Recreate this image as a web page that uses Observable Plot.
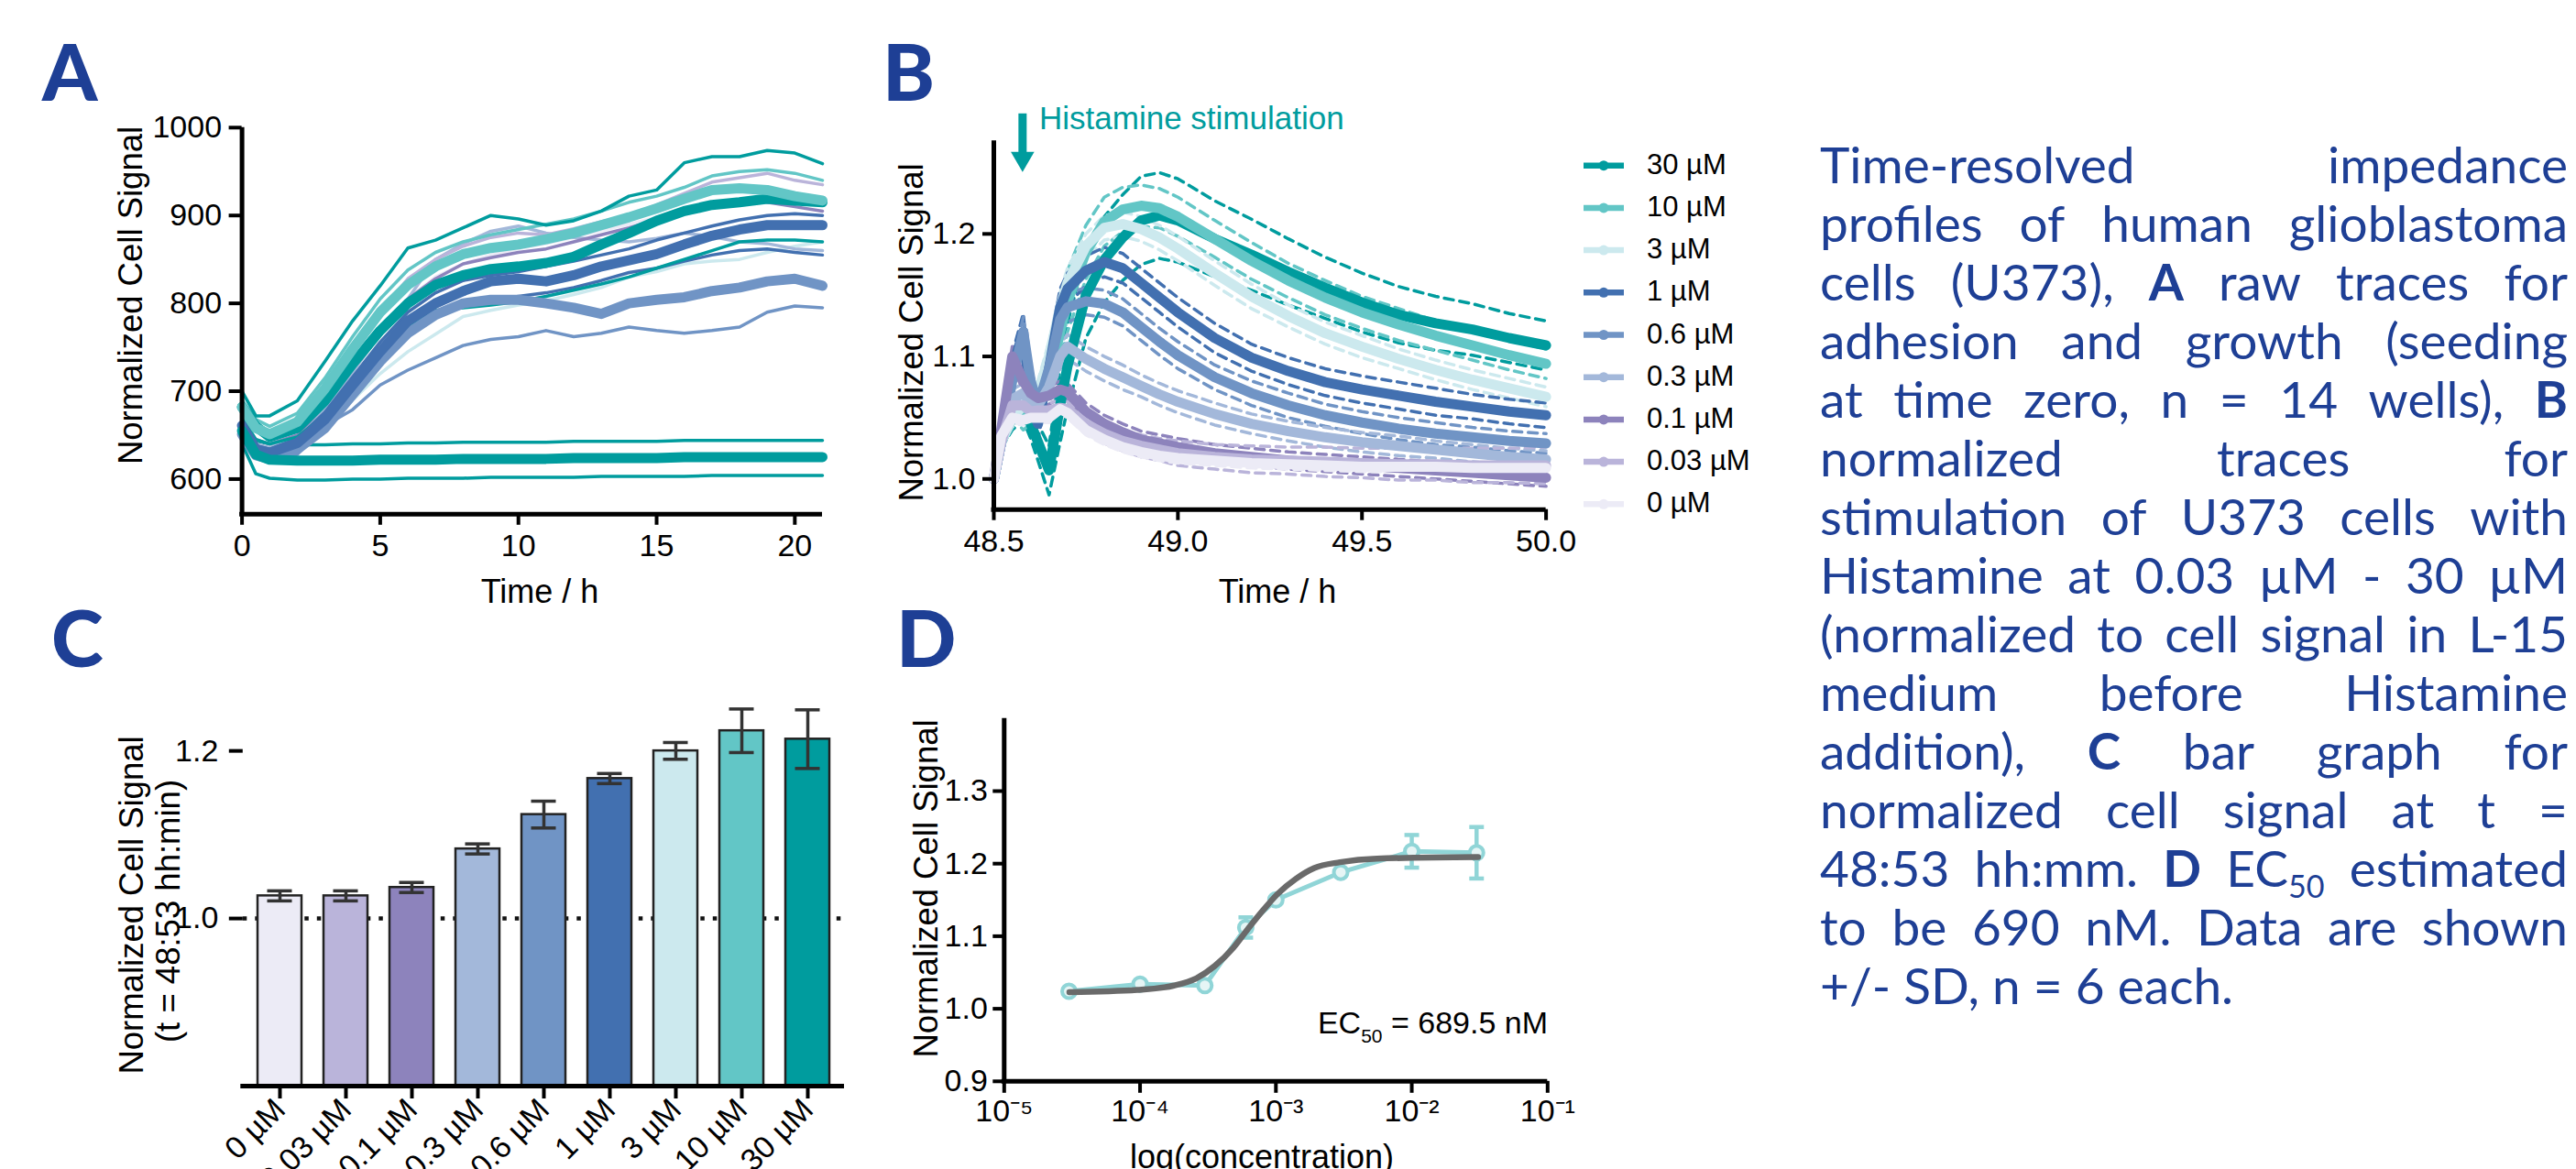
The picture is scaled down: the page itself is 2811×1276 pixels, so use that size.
<!DOCTYPE html>
<html>
<head>
<meta charset="utf-8">
<script src="https://cdn.jsdelivr.net/npm/d3@7"></script>
<script src="https://cdn.jsdelivr.net/npm/@observablehq/plot@0.6"></script>
<style>
html, body { margin: 0; padding: 0; background: #fff; }
#fig { position: relative; width: 2811px; height: 1276px; overflow: hidden; background: #fff; }
.panel { position: absolute; }
.panel svg { max-width: none !important; background: transparent !important; overflow: visible; }
#overlay { position: absolute; left: 0; top: 0; pointer-events: none; }
</style>
</head>
<body>
<div id="fig"></div>
<script>
// ---------------- colours per concentration ----------------
const cTeal = "#009c9e", cLtTeal = "#62c6c6", cCyan = "#cce9ee", cBlue = "#4270b0",
      cMidBlue = "#7094c5", cLtBlue = "#a3b8da", cPurple = "#8d83bc", cLav = "#bab4da", cPale = "#ecebf6";

// ---------------- Panel A: raw traces ----------------
const timeA = [0, 0.5, 1, 2, 3, 4, 5, 6, 7, 8, 9, 10, 11, 12, 13, 14, 15, 16, 17, 18, 19, 20, 21];
const aThickTeal   = [682, 660, 648, 658, 689, 731, 769, 800, 821, 832, 839, 842, 846, 853, 867, 880, 894, 905, 912, 915, 919, 917, 915];
const aThickLtTeal = [682, 658, 651, 665, 703, 748, 790, 821, 842, 856, 863, 867, 873, 880, 889, 898, 908, 919, 929, 931, 929, 922, 917];
const aThickBlue   = [661, 634, 630, 641, 668, 707, 745, 780, 800, 814, 825, 828, 825, 832, 842, 849, 856, 867, 877, 884, 889, 889, 889];
const aThickMidBlue= [651, 627, 623, 634, 658, 696, 734, 766, 787, 800, 804, 804, 800, 795, 788, 800, 804, 807, 814, 818, 825, 828, 820];
const aThickFlat   = [655, 628, 622, 621, 621, 621, 622, 622, 622, 623, 623, 623, 623, 624, 624, 624, 624, 625, 625, 625, 625, 625, 625];
const aTopTeal     = [700, 672, 672, 689, 734, 780, 820, 863, 872, 886, 900, 896, 889, 894, 905, 922, 929, 960, 967, 967, 974, 971, 959];
const aLowMidBlue  = [651, 626, 622, 628, 661, 679, 707, 724, 738, 752, 759, 762, 769, 762, 766, 773, 769, 766, 769, 773, 790, 797, 795];
const aFlatUpper   = [660, 643, 640, 639, 639, 640, 640, 641, 641, 642, 642, 642, 642, 643, 643, 643, 643, 644, 644, 644, 644, 644, 644];
const aFlatLower   = [640, 606, 601, 599, 599, 600, 600, 601, 601, 601, 602, 602, 602, 602, 603, 603, 603, 603, 604, 604, 604, 604, 604];
const aLav         = [670, 660, 655, 665, 700, 745, 790, 828, 850, 865, 875, 880, 878, 885, 893, 900, 912, 925, 938, 943, 948, 940, 935];
const aPurple      = [665, 645, 640, 650, 685, 728, 770, 805, 828, 845, 852, 858, 862, 870, 878, 886, 895, 905, 912, 918, 915, 910, 905];
const aCyan        = [660, 636, 632, 640, 660, 690, 720, 745, 765, 785, 792, 798, 803, 810, 818, 830, 836, 845, 848, 850, 858, 865, 870];
const aBlueLow     = [655, 630, 626, 636, 662, 700, 738, 770, 790, 800, 804, 808, 812, 818, 826, 835, 840, 848, 855, 860, 862, 858, 855];
const aBlueHigh    = [662, 638, 634, 646, 676, 716, 756, 790, 812, 826, 832, 836, 842, 848, 855, 862, 872, 880, 888, 895, 900, 902, 900];
const aLtTealHigh  = [690, 668, 660, 675, 715, 762, 805, 838, 858, 870, 878, 884, 890, 896, 905, 915, 922, 932, 945, 950, 952, 948, 940];
const aTealLow     = [670, 645, 640, 648, 672, 710, 748, 775, 792, 795, 798, 802, 808, 815, 822, 830, 840, 850, 860, 870, 872, 872, 870];
const aLtBlue      = [665, 640, 636, 648, 680, 722, 765, 805, 850, 868, 882, 888, 880, 875, 872, 870, 874, 880, 876, 870, 868, 862, 860];
const aPale        = [662, 640, 636, 648, 680, 722, 768, 805, 830, 845, 855, 862, 868, 875, 883, 890, 898, 905, 912, 918, 922, 920, 918];
const xTicksA = [0, 5, 10, 15, 20];
const yTicksA = [600, 700, 800, 900, 1000];

// ---------------- Panel B: normalized traces ----------------
const timeB = [48.5, 48.52, 48.55, 48.58, 48.6, 48.62, 48.65, 48.68, 48.7, 48.75, 48.8, 48.85, 48.9, 48.95, 49.0, 49.1, 49.2, 49.3, 49.4, 49.5, 49.6, 49.7, 49.8, 49.9, 50.0];
const concLegend = ["30 µM", "10 µM", "3 µM", "1 µM", "0.6 µM", "0.3 µM", "0.1 µM", "0.03 µM", "0 µM"];
const concColors = [cTeal, cLtTeal, cCyan, cBlue, cMidBlue, cLtBlue, cPurple, cLav, cPale];
const m30  = [1.0, 1.03, 1.05, 1.06, 1.045, 1.03, 1.007, 1.06, 1.092, 1.15, 1.179, 1.197, 1.211, 1.215, 1.211, 1.196, 1.183, 1.169, 1.156, 1.144, 1.134, 1.127, 1.122, 1.115, 1.109];
const m10  = [1.0, 1.03, 1.06, 1.05, 1.055, 1.06, 1.08, 1.12, 1.145, 1.185, 1.21, 1.22, 1.223, 1.221, 1.214, 1.196, 1.178, 1.162, 1.148, 1.136, 1.126, 1.117, 1.109, 1.101, 1.094];
const m3   = [1.0, 1.03, 1.05, 1.06, 1.065, 1.07, 1.1, 1.14, 1.16, 1.19, 1.205, 1.208, 1.204, 1.197, 1.188, 1.168, 1.149, 1.133, 1.119, 1.108, 1.098, 1.089, 1.081, 1.074, 1.067];
const m1   = [1.0, 1.03, 1.09, 1.12, 1.06, 1.045, 1.09, 1.14, 1.155, 1.17, 1.177, 1.172, 1.16, 1.148, 1.136, 1.115, 1.099, 1.088, 1.079, 1.073, 1.068, 1.063, 1.059, 1.055, 1.052];
const m06  = [1.0, 1.03, 1.08, 1.12, 1.08, 1.06, 1.09, 1.13, 1.14, 1.145, 1.143, 1.136, 1.124, 1.112, 1.101, 1.083, 1.07, 1.06, 1.052, 1.046, 1.041, 1.037, 1.034, 1.031, 1.029];
const m03  = [1.0, 1.03, 1.065, 1.07, 1.062, 1.06, 1.075, 1.1, 1.108, 1.098, 1.09, 1.083, 1.076, 1.069, 1.063, 1.053, 1.045, 1.039, 1.034, 1.03, 1.027, 1.024, 1.021, 1.018, 1.016];
const m01  = [1.0, 1.04, 1.1, 1.08, 1.07, 1.066, 1.068, 1.073, 1.071, 1.055, 1.045, 1.038, 1.032, 1.029, 1.026, 1.021, 1.018, 1.015, 1.013, 1.011, 1.009, 1.007, 1.005, 1.003, 1.001];
const m003 = [1.0, 1.03, 1.06, 1.06, 1.055, 1.056, 1.056, 1.058, 1.057, 1.045, 1.037, 1.031, 1.027, 1.024, 1.021, 1.018, 1.016, 1.015, 1.014, 1.013, 1.012, 1.012, 1.011, 1.011, 1.011];
const m0   = [1.0, 1.035, 1.05, 1.048, 1.05, 1.05, 1.05, 1.057, 1.054, 1.04, 1.032, 1.026, 1.022, 1.019, 1.017, 1.015, 1.013, 1.012, 1.011, 1.01, 1.01, 1.01, 1.009, 1.009, 1.009];
const sd30  = [0, 0.005, 0.01, 0.012, 0.012, 0.015, 0.02, 0.03, 0.035, 0.035, 0.035, 0.035, 0.036, 0.035, 0.034, 0.031, 0.029, 0.027, 0.025, 0.024, 0.023, 0.022, 0.021, 0.02, 0.02];
const sd10  = [0, 0.005, 0.01, 0.01, 0.01, 0.012, 0.02, 0.025, 0.025, 0.022, 0.02, 0.018, 0.017, 0.016, 0.016, 0.015, 0.015, 0.014, 0.014, 0.013, 0.013, 0.012, 0.012, 0.012, 0.012];
const sd3   = [0, 0.005, 0.008, 0.01, 0.01, 0.01, 0.012, 0.012, 0.012, 0.01, 0.01, 0.01, 0.01, 0.01, 0.01, 0.01, 0.01, 0.009, 0.009, 0.009, 0.008, 0.008, 0.008, 0.008, 0.008];
const sd1   = [0, 0.005, 0.012, 0.015, 0.012, 0.012, 0.015, 0.015, 0.013, 0.012, 0.012, 0.012, 0.012, 0.012, 0.012, 0.012, 0.011, 0.011, 0.011, 0.011, 0.011, 0.011, 0.01, 0.01, 0.01];
const sd06  = [0, 0.005, 0.01, 0.012, 0.01, 0.01, 0.012, 0.012, 0.012, 0.011, 0.011, 0.011, 0.011, 0.011, 0.011, 0.01, 0.01, 0.01, 0.009, 0.009, 0.009, 0.009, 0.008, 0.008, 0.008];
const sd03  = [0, 0.004, 0.008, 0.008, 0.008, 0.008, 0.008, 0.01, 0.01, 0.01, 0.01, 0.01, 0.009, 0.009, 0.009, 0.009, 0.008, 0.008, 0.008, 0.008, 0.008, 0.007, 0.007, 0.007, 0.007];
const sd01  = [0, 0.004, 0.008, 0.008, 0.008, 0.007, 0.007, 0.007, 0.007, 0.007, 0.007, 0.007, 0.007, 0.007, 0.007, 0.007, 0.007, 0.007, 0.007, 0.007, 0.007, 0.007, 0.007, 0.007, 0.007];
const sd003 = [0, 0.004, 0.006, 0.006, 0.006, 0.006, 0.006, 0.006, 0.006, 0.007, 0.008, 0.008, 0.009, 0.009, 0.01, 0.01, 0.011, 0.011, 0.012, 0.012, 0.013, 0.013, 0.014, 0.014, 0.015];
const sd0   = [0, 0.003, 0.004, 0.004, 0.004, 0.004, 0.004, 0.004, 0.004, 0.004, 0.004, 0.004, 0.004, 0.004, 0.004, 0.004, 0.004, 0.004, 0.004, 0.004, 0.004, 0.004, 0.004, 0.004, 0.004];
const stimulationTime = 48.578;
const arrowTopValue = 1.298, arrowHeadValue = 1.2615;
const xTicksB = [48.5, 49.0, 49.5, 50.0];
const yTicksB = [1.0, 1.1, 1.2];

// ---------------- Panel C: bar graph ----------------
const barLabels = ["0 µM", "0.03 µM", "0.1 µM", "0.3 µM", "0.6 µM", "1 µM", "3 µM", "10 µM", "30 µM"];
const barValues = [1.027, 1.027, 1.037, 1.083, 1.124, 1.167, 1.200, 1.224, 1.214];
const barSD     = [0.006, 0.006, 0.006, 0.006, 0.016, 0.006, 0.010, 0.026, 0.035];
const barColors = [cPale, cLav, cPurple, cLtBlue, cMidBlue, cBlue, cCyan, cLtTeal, cTeal];
const barBase = 0.8;
const referenceLevel = 1.0;
const yTicksC = [1.0, 1.2];

// ---------------- Panel D: dose response ----------------
const doseConc  = [3e-5, 1e-4, 3e-4, 6e-4, 1e-3, 3e-3, 1e-2, 3e-2];
const doseValue = [1.024, 1.034, 1.032, 1.112, 1.150, 1.188, 1.217, 1.215];
const doseSD    = [0.003, 0.003, 0.004, 0.014, 0.004, 0.004, 0.0225, 0.0355];
const fitLogConc = [-4.52, -4.02, -3.75, -3.585, -3.45, -3.314, -3.206, -3.098, -2.989, -2.854, -2.718, -2.528, -2.257, -1.512];
const fitValue   = [1.023, 1.026, 1.032, 1.042, 1.059, 1.084, 1.110, 1.135, 1.158, 1.179, 1.194, 1.202, 1.207, 1.209];
const xTicksD = [1e-5, 1e-4, 1e-3, 1e-2, 1e-1];
const yTicksD = [0.9, 1.0, 1.1, 1.2, 1.3];

// ---------------- text ----------------
const captionLines = [
  "Time-resolved impedance",
  "profiles of human glioblastoma",
  "cells (U373), **A** raw traces for",
  "adhesion and growth (seeding",
  "at time zero, n = 14 wells), **B**",
  "normalized traces for",
  "stimulation of U373 cells with",
  "Histamine at 0.03 µM - 30 µM",
  "(normalized to cell signal in L-15",
  "medium before Histamine",
  "addition), **C** bar graph for",
  "normalized cell signal at t =",
  "48:53 hh:mm. **D** EC_50 estimated",
  "to be 690 nM. Data are shown",
  "+/- SD, n = 6 each."
];

// =====================================================================
const FONT = "'Liberation Sans', Arial, Helvetica, sans-serif";
const baseStyle = {fontFamily: FONT, fontSize: "34px", color: "#000", background: "transparent", overflow: "visible"};
const fig = document.getElementById("fig");
function place(node, left, top) {
  const d = document.createElement("div");
  d.className = "panel";
  d.style.left = left + "px";
  d.style.top = top + "px";
  d.appendChild(node);
  fig.appendChild(d);
}
function rowsOf(id, xs, ys, col) { return xs.map((x, i) => ({id, x, y: ys[i], col})); }

// ---- Panel A ----
const thinA = [
  ["flatU", aFlatUpper, cTeal], ["flatL", aFlatLower, cTeal],
  ["pale", aPale, cPale], ["cyan", aCyan, cCyan], ["ltblue", aLtBlue, cLtBlue],
  ["lav", aLav, cLav], ["purple", aPurple, cPurple], ["bluelow", aBlueLow, cBlue],
  ["bluehigh", aBlueHigh, cBlue], ["tealLow", aTealLow, cTeal], ["ltTealHigh", aLtTealHigh, cLtTeal],
  ["lowMid", aLowMidBlue, cMidBlue], ["top", aTopTeal, cTeal]
].flatMap(([id, v, c]) => rowsOf(id, timeA, v, c));
const thickA = [
  ["tMid", aThickMidBlue, cMidBlue], ["tBlue", aThickBlue, cBlue],
  ["tTeal", aThickTeal, cTeal], ["tLtTeal", aThickLtTeal, cLtTeal], ["tFlat", aThickFlat, cTeal]
].flatMap(([id, v, c]) => rowsOf(id, timeA, v, c));

const plotA = Plot.plot({
  width: 960, height: 680,
  marginLeft: 263.6, marginRight: 63, marginTop: 138.8, marginBottom: 119.2,
  x: {domain: [0, 21]}, y: {domain: [560, 1000]},
  color: {type: "identity"},
  style: baseStyle,
  marks: [
    Plot.line(thinA, {x: "x", y: "y", z: "id", stroke: "col", strokeWidth: 3.5, strokeLinejoin: "round"}),
    Plot.line(thickA, {x: "x", y: "y", z: "id", stroke: "col", strokeWidth: 11, strokeLinecap: "round", strokeLinejoin: "round"}),
    Plot.ruleX([0], {strokeWidth: 5}),
    Plot.ruleY([560], {strokeWidth: 5, insetLeft: -2.5}),
    Plot.axisX({ticks: xTicksA, tickFormat: d => String(d), tickSize: 12, tickPadding: 10, strokeWidth: 4, fontSize: 34, label: null}),
    Plot.axisY({ticks: yTicksA, tickFormat: d => String(d), tickSize: 14, tickPadding: 8, strokeWidth: 4, fontSize: 34, label: null})
  ]
});
place(plotA, 0, 0);

// ---- Panel B ----
const meansB = [m30, m10, m3, m1, m06, m03, m01, m003, m0];
const sdsB = [sd30, sd10, sd3, sd1, sd06, sd03, sd01, sd003, sd0];
const meanRows = meansB.flatMap((m, k) => rowsOf(concLegend[k], timeB, m, concColors[k]));
const dashRows = meansB.flatMap((m, k) => [
  ...rowsOf(concLegend[k] + "u", timeB, m.map((v, i) => v + sdsB[k][i]), concColors[k]),
  ...rowsOf(concLegend[k] + "l", timeB, m.map((v, i) => v - sdsB[k][i]), concColors[k])
]);
const plotB = Plot.plot({
  width: 870, height: 600,
  marginLeft: 144, marginRight: 123.4, marginTop: 73.2, marginBottom: 124.3,
  x: {domain: [48.5, 50.0]}, y: {domain: [0.975, 1.276]},
  color: {type: "identity"},
  style: baseStyle,
  marks: [
    Plot.line(dashRows, {x: "x", y: "y", z: "id", stroke: "col", strokeWidth: 3.5, strokeDasharray: "10,7"}),
    Plot.line(meanRows, {x: "x", y: "y", z: "id", stroke: "col", strokeWidth: 11, strokeLinecap: "round", strokeLinejoin: "round"}),
    Plot.ruleX([stimulationTime], {x: d => d, y1: () => arrowTopValue, y2: () => arrowHeadValue + 0.002, stroke: cTeal, strokeWidth: 9}),
    Plot.dot([stimulationTime], {x: d => d, y: () => arrowHeadValue, symbol: "triangle", rotate: 180, r: 9.5, fill: cTeal, stroke: "none"}),
    Plot.ruleX([48.5], {strokeWidth: 5}),
    Plot.ruleY([0.975], {strokeWidth: 5, insetLeft: -2.5}),
    Plot.axisX({ticks: xTicksB, tickFormat: d3.format(".1f"), tickSize: 12, tickPadding: 10, strokeWidth: 4, fontSize: 34, label: null}),
    Plot.axisY({ticks: yTicksB, tickFormat: d3.format(".1f"), tickSize: 12, tickPadding: 8, strokeWidth: 4, fontSize: 34, label: null})
  ]
});
place(plotB, 940, 80);

// ---- Panel C ----
const barRows = barLabels.map((label, i) => ({label, value: barValues[i], sd: barSD[i], col: barColors[i]}));
const plotC = Plot.plot({
  width: 960, height: 636,
  marginLeft: 264.8, marginRight: 39, marginTop: 108.7, marginBottom: 91,
  x: {domain: barLabels, paddingInner: 0.335, paddingOuter: 0.1675},
  y: {domain: [0.8, 1.277]},
  color: {type: "identity"},
  style: baseStyle,
  marks: [
    Plot.ruleY([referenceLevel], {stroke: "#111", strokeWidth: 4.5, strokeDasharray: "4.5,9"}),
    Plot.barY(barRows, {x: "label", y1: () => barBase, y2: "value", fill: "col", stroke: "#222", strokeWidth: 2.5}),
    Plot.ruleX(barRows, {x: "label", y1: d => d.value - d.sd, y2: d => d.value + d.sd, stroke: "#333", strokeWidth: 3.5}),
    Plot.tickY(barRows, {x: "label", y: d => d.value + d.sd, stroke: "#333", strokeWidth: 3.5, inset: 10.5}),
    Plot.tickY(barRows, {x: "label", y: d => d.value - d.sd, stroke: "#333", strokeWidth: 3.5, inset: 10.5}),
    Plot.ruleX([0], {x: () => 0, frameAnchor: "left", strokeWidth: 5}),
    Plot.ruleY([barBase], {strokeWidth: 5, insetLeft: -2.5}),
    Plot.axisX({tickSize: 14, tickPadding: 6, tickRotate: -45, strokeWidth: 4, fontSize: 34, label: null}),
    Plot.axisY({ticks: yTicksC, tickFormat: d3.format(".1f"), tickSize: 15, tickPadding: 12, strokeWidth: 4, fontSize: 34, label: null})
  ]
});
place(plotC, 0, 640);

// ---- Panel D ----
const doseRows = doseConc.map((c, i) => ({c, v: doseValue[i], sd: doseSD[i]}));
const fitRows = fitLogConc.map((l, i) => ({c: Math.pow(10, l), v: fitValue[i]}));
const capSymbol = {draw(ctx, size) { const w = Math.sqrt(size); ctx.moveTo(-w / 2, 0); ctx.lineTo(w / 2, 0); }};
const supDigits = {"-": "⁻", "0": "⁰", "1": "¹", "2": "²", "3": "³", "4": "⁴", "5": "⁵", "6": "⁶", "7": "⁷", "8": "⁸", "9": "⁹"};
const powerLabel = d => "10" + String(Math.round(Math.log10(d))).split("").map(ch => supDigits[ch]).join("");
const cDose = "#90d5d7";
const plotD = Plot.plot({
  width: 860, height: 636,
  marginLeft: 145.3, marginRight: 121.7, marginTop: 143.8, marginBottom: 96.2,
  x: {type: "log", domain: [1e-5, 1e-1]}, y: {domain: [0.9, 1.4]},
  style: baseStyle,
  marks: [
    Plot.ruleX(doseRows, {x: "c", y1: d => d.v - d.sd, y2: d => d.v + d.sd, stroke: cDose, strokeWidth: 4.5}),
    Plot.dot(doseRows, {x: "c", y: d => d.v + d.sd, symbol: capSymbol, r: 9, stroke: cDose, strokeWidth: 4.5}),
    Plot.dot(doseRows, {x: "c", y: d => d.v - d.sd, symbol: capSymbol, r: 9, stroke: cDose, strokeWidth: 4.5}),
    Plot.line(doseRows, {x: "c", y: "v", stroke: cDose, strokeWidth: 5}),
    Plot.dot(doseRows, {x: "c", y: "v", r: 7.5, stroke: cDose, strokeWidth: 4, fill: "#e6f5f5"}),
    Plot.line(fitRows, {x: "c", y: "v", stroke: "#6a6a6a", strokeWidth: 6.5, curve: "monotone-x", strokeLinecap: "round"}),
    Plot.ruleX([1e-5], {strokeWidth: 5}),
    Plot.ruleY([0.9], {strokeWidth: 5, insetLeft: -2.5}),
    Plot.axisX({ticks: xTicksD, tickFormat: powerLabel, tickSize: 13, tickPadding: 7, strokeWidth: 4, fontSize: 34, label: null}),
    Plot.axisY({ticks: yTicksD, tickFormat: d3.format(".1f"), tickSize: 12, tickPadding: 6, strokeWidth: 4, fontSize: 34, label: null})
  ]
});
place(plotD, 950, 640);

// ---- Overlay: labels, legend, caption ----
const ov = d3.select("#fig").append("svg").attr("id", "overlay")
  .attr("width", 2811).attr("height", 1276).attr("viewBox", "0 0 2811 1276");
const navy = "#1e3f95";

// panel letters
[["A", 46, 110], ["B", 963, 110], ["C", 56, 728], ["D", 978, 728]].forEach(([t, x, y]) =>
  ov.append("text").attr("x", x).attr("y", y).attr("fill", navy)
    .style("font-family", "Lato, 'Open Sans', sans-serif").style("font-weight", 900).style("font-size", "86px").text(t));

// axis titles
function vtitle(text, x, y, size = 36.5) {
  ov.append("text").attr("transform", `translate(${x},${y}) rotate(-90)`).attr("text-anchor", "middle")
    .style("font-family", FONT).style("font-size", size + "px").attr("fill", "#000").text(text);
}
function htitle(text, x, y, size = 36) {
  ov.append("text").attr("x", x).attr("y", y).attr("text-anchor", "middle")
    .style("font-family", FONT).style("font-size", size + "px").attr("fill", "#000").text(text);
}
vtitle("Normalized Cell Signal", 155, 322.5);
vtitle("Normalized Cell Signal", 1007, 363);
vtitle("Normalized Cell Signal", 156, 988);
vtitle("(t = 48:53 hh:min)", 196, 994.5);
vtitle("Normalized Cell Signal", 1023, 970);
htitle("Time / h", 589, 658);
htitle("Time / h", 1394, 658);
htitle("log(concentration)", 1377, 1275);

// stimulation annotation
ov.append("text").attr("x", 1134).attr("y", 141).attr("fill", cTeal)
  .style("font-family", FONT).style("font-size", "35px").text("Histamine stimulation");

// legend for panel B
concLegend.forEach((lab, i) => {
  const cy = 180.7 + i * 46.2;
  ov.append("line").attr("x1", 1728).attr("x2", 1772).attr("y1", cy).attr("y2", cy)
    .attr("stroke", concColors[i]).attr("stroke-width", 6.5);
  ov.append("circle").attr("cx", 1750).attr("cy", cy).attr("r", 5.5).attr("fill", concColors[i]);
  ov.append("text").attr("x", 1797).attr("y", cy + 9).style("font-family", FONT).style("font-size", "31px")
    .attr("fill", "#000").text(lab);
});

// EC50 label
{
  const t = ov.append("text").attr("x", 1689).attr("y", 1128).attr("text-anchor", "end")
    .style("font-family", FONT).style("font-size", "34px").attr("fill", "#000");
  t.append("tspan").text("EC");
  t.append("tspan").attr("dy", 10).style("font-size", "21px").text("50");
  t.append("tspan").attr("dy", -10).text(" = 689.5 nM");
}

// caption (justified)
const capFont = "Lato, 'Open Sans', sans-serif";
const capLeft = 1986, capWidth = 816, capBase = 199.7, capStep = 64;
function makeWord(parent, word, size) {
  const t = parent.append("text").style("font-family", capFont).style("font-size", size + "px").attr("fill", navy);
  const bold = word.match(/^\*\*(.+)\*\*$/);
  if (bold) { t.append("tspan").style("font-weight", 700).text(bold[1]); }
  else if (word.includes("_")) {
    const [a, b] = word.split("_");
    t.append("tspan").text(a);
    t.append("tspan").attr("dy", size * 0.22).style("font-size", (size * 0.62) + "px").text(b);
  } else { t.text(word); }
  return t;
}
const measureG = ov.append("g").attr("opacity", 0);
const tmpA = measureG.append("text").style("font-family", capFont).style("font-size", "100px").text("nn");
const tmpB = measureG.append("text").style("font-family", capFont).style("font-size", "100px").text("n n");
const space100 = tmpB.node().getComputedTextLength() - tmpA.node().getComputedTextLength();
const lineWords = captionLines.map(l => l.split(" "));
const wordW100 = lineWords.map(ws => ws.map(w => makeWord(measureG, w, 100).node().getComputedTextLength()));
let capSize = 55;
lineWords.forEach((ws, i) => {
  if (i === lineWords.length - 1) return;
  const nat = d3.sum(wordW100[i]) + (ws.length - 1) * space100 * 0.9;
  capSize = Math.min(capSize, capWidth * 100 / nat);
});
measureG.remove();
lineWords.forEach((ws, i) => {
  const k = capSize / 100;
  const widths = wordW100[i].map(w => w * k);
  const last = i === lineWords.length - 1;
  const gap = (last || ws.length < 2) ? space100 * k : (capWidth - d3.sum(widths)) / (ws.length - 1);
  let x = capLeft;
  ws.forEach((w, j) => {
    makeWord(ov, w, capSize).attr("x", x).attr("y", capBase + i * capStep);
    x += widths[j] + gap;
  });
});
</script>
</body>
</html>
